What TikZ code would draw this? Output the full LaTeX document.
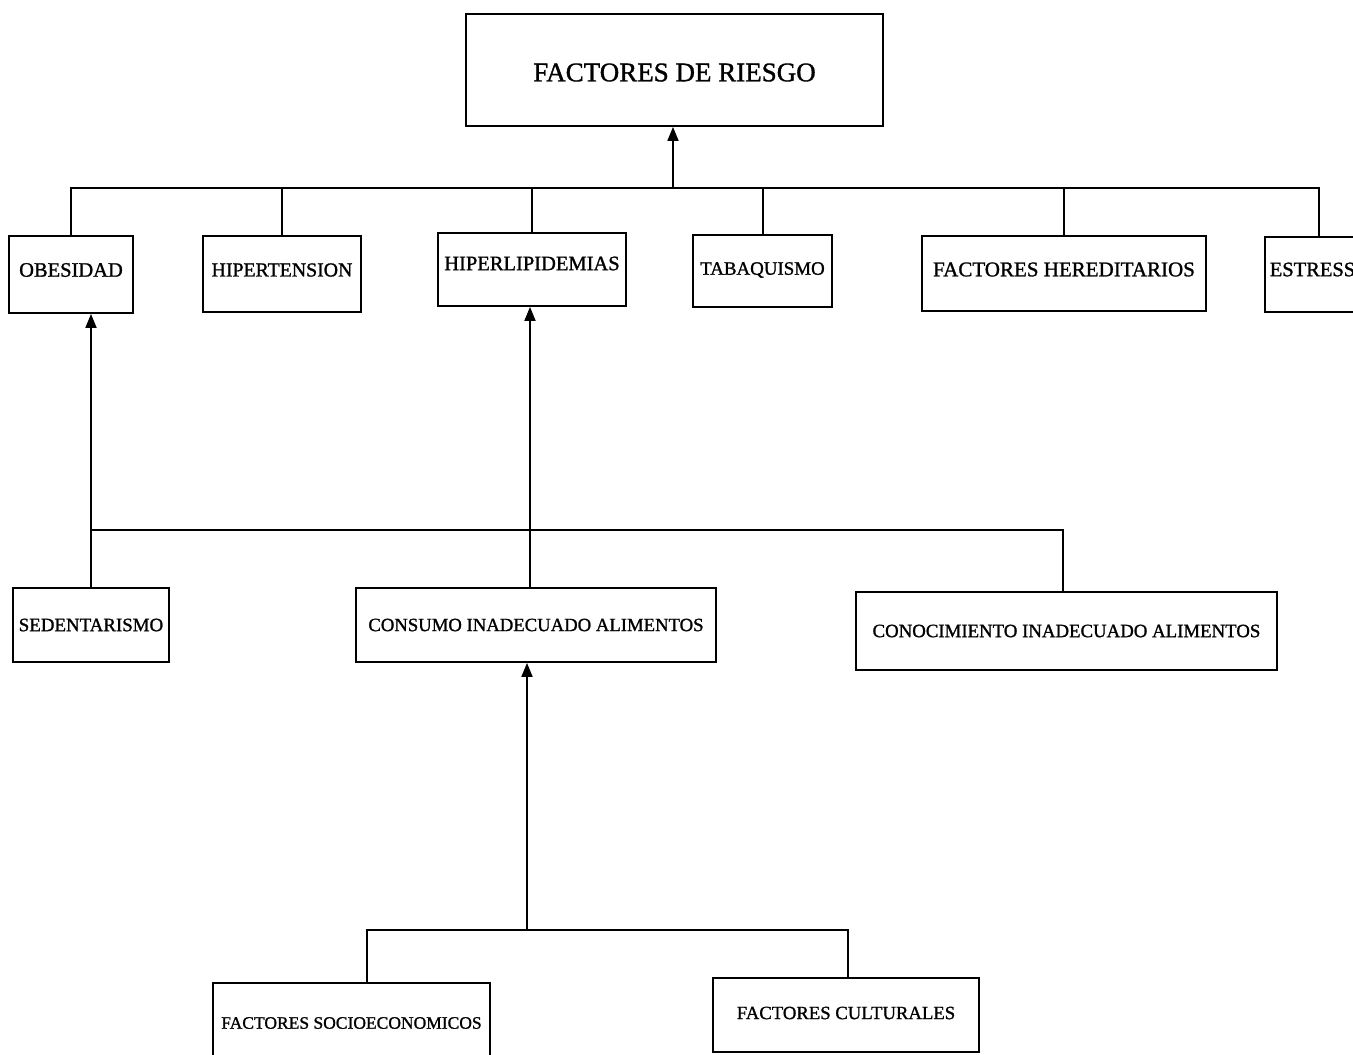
\documentclass[tikz,border=0pt]{standalone}
\usepackage{fontspec}
\setmainfont{Liberation Serif}[FakeBold=1.2]
\usetikzlibrary{arrows.meta}
\newcommand{\rz}[2]{\raisebox{#1pt}[\height][\depth]{#2}}
\newcommand{\fs}[1]{\fontsize{#1}{#1}\selectfont}
\tikzset{
  box/.style={draw, line width=1.8pt, inner sep=0pt, anchor=center},
  conn/.style={line width=1.8pt},
  arr/.style={line width=1.8pt, -{Triangle[length=14pt,width=11pt]}}
}
\begin{document}
\begin{tikzpicture}[x=1pt,y=1pt]
\useasboundingbox (0,0) rectangle (1353,-1055);
% boxes
\node[box, minimum width=417, minimum height=112, font=\fs{27}] (title) at (674.5,-70) {\rz{-2.5}{FACTORES DE RIESGO}};
\node[box, minimum width=124, minimum height=77, font=\fs{20.5}] (obes) at (71,-274.5) {\rz{4.5}{OBESIDAD}};
\node[box, minimum width=158, minimum height=76, font=\fs{19.8}] (hipt) at (282,-274) {\rz{4}{HIPERTENSION}};
\node[box, minimum width=188, minimum height=73, font=\fs{20.5}] (hlip) at (532,-269.5) {\rz{6}{HIPERLIPIDEMIAS}};
\node[box, minimum width=139, minimum height=72, font=\fs{18.9}] (taba) at (762.5,-271) {\rz{1}{TABAQUISMO}};
\node[box, minimum width=284, minimum height=75, font=\fs{21}] (fher) at (1064,-273.5) {\rz{4}{FACTORES HEREDITARIOS}};
\node[box, minimum width=95, minimum height=75, font=\fs{20.5}] (estr) at (1312.5,-274.5) {\rz{5}{ESTRESS}};
\node[box, minimum width=156, minimum height=74, font=\fs{18.9}] (sed) at (91,-625) {SEDENTARISMO};
\node[box, minimum width=360, minimum height=74, font=\fs{18.7}] (cons) at (536,-625) {CONSUMO INADECUADO ALIMENTOS};
\node[box, minimum width=421, minimum height=78, font=\fs{18.8}] (cono) at (1066.5,-631) {CONOCIMIENTO INADECUADO ALIMENTOS};
\node[box, minimum width=277, minimum height=79, font=\fs{17.5}] (soc) at (351.5,-1022.5) {\rz{-0.5}{FACTORES SOCIOECONOMICOS}};
\node[box, minimum width=266, minimum height=74, font=\fs{18.7}] (cult) at (846,-1015) {\rz{2}{FACTORES CULTURALES}};
% junction coordinates
\coordinate (j1) at (673,-188);
\coordinate (j6) at (1319,-188);
\coordinate (m1) at (91,-530);
\coordinate (mh) at (530,-530);
\coordinate (mr) at (1063,-530);
\coordinate (b0) at (527,-930);
\coordinate (bl) at (367,-930);
\coordinate (br) at (848,-930);
% top level
\draw[arr] (j1) -- (j1 |- title.south);
\draw[conn] (obes.north) -- (obes.north |- j1) -- (j6) -- (j6 |- estr.north);
\draw[conn] (hipt.north) -- (hipt.north |- j1);
\draw[conn] (hlip.north) -- (hlip.north |- j1);
\draw[conn] (763,-188) -- (taba.north -| 763,0);
\draw[conn] (fher.north) -- (fher.north |- j1);
% middle level
\draw[arr] (sed.north) -- (sed.north |- obes.south);
\draw[arr] (mh |- cons.north) -- (mh |- hlip.south);
\draw[conn] (m1) -- (mr) -- (mr |- cono.north);
% bottom level
\draw[arr] (b0) -- (b0 |- cons.south);
\draw[conn] (soc.north -| bl) -- (bl) -- (br) -- (br |- cult.north);
\end{tikzpicture}
\end{document}
